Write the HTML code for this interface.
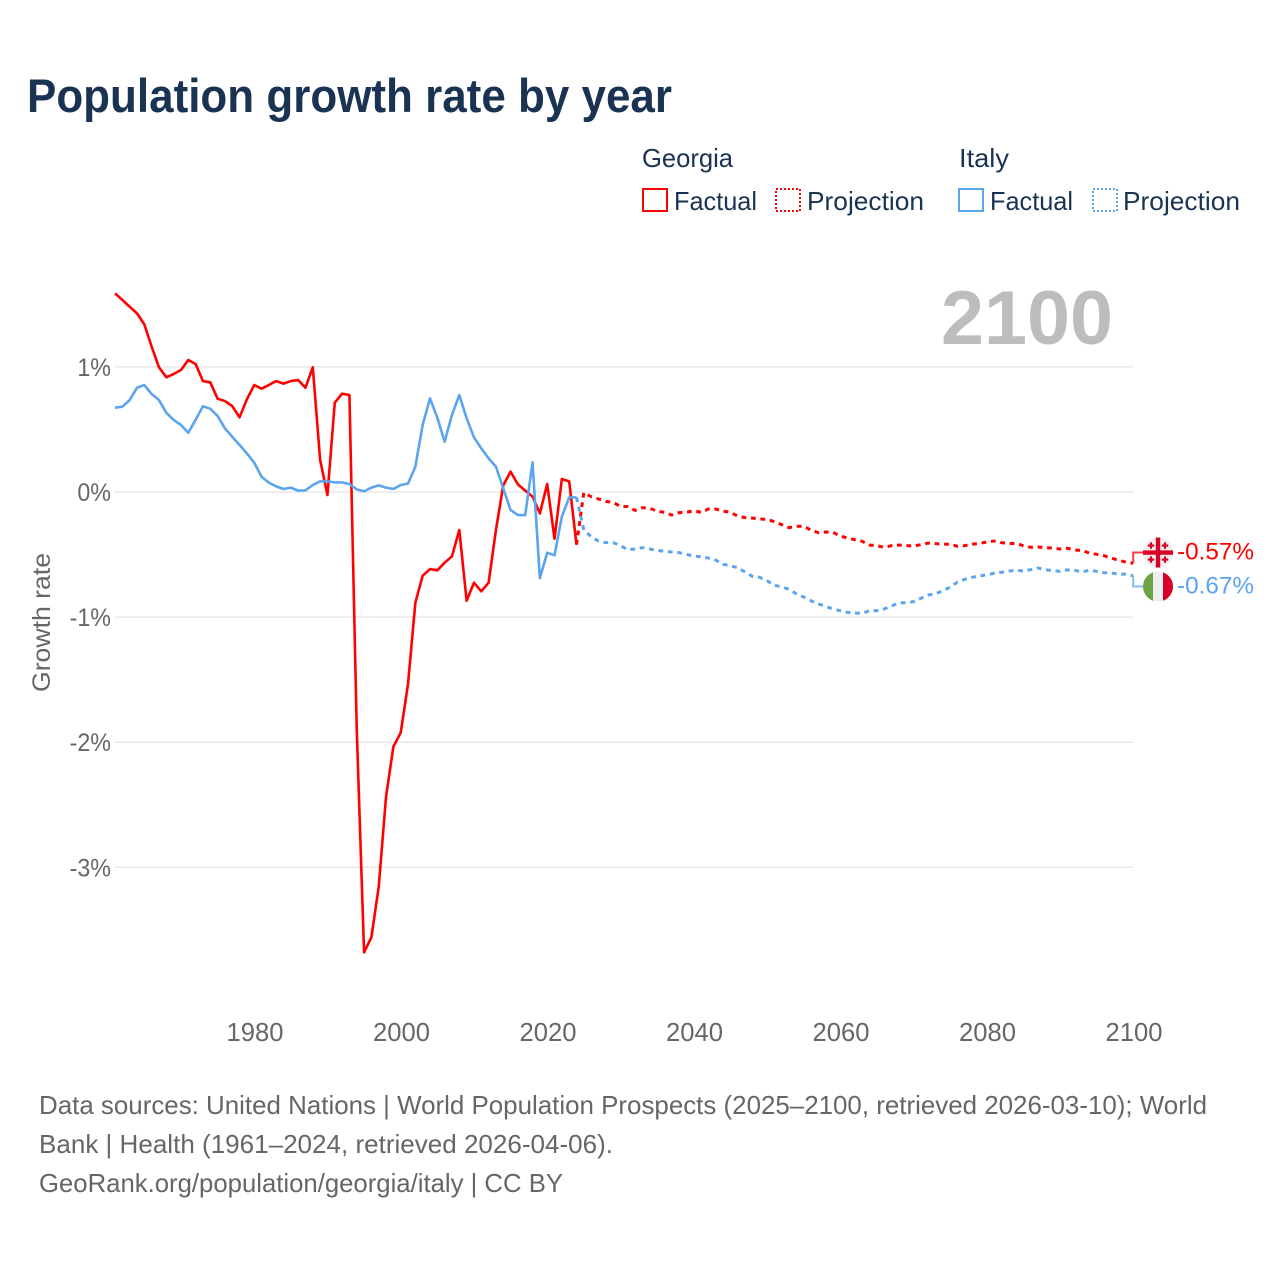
<!DOCTYPE html>
<html lang="en">
<head>
<meta charset="utf-8">
<title>Population growth rate by year</title>
<style>
html,body{margin:0;padding:0;background:#fff;width:1280px;height:1280px;overflow:hidden}
svg{display:block}
text{font-family:"Liberation Sans",sans-serif}
</style>
</head>
<body>
<svg id="chart" xmlns="http://www.w3.org/2000/svg" width="1280" height="1280" viewBox="0 0 1280 1280">
  <rect x="0" y="0" width="1280" height="1280" fill="#ffffff"/>
  <text x="27" y="112" font-size="47" font-weight="700" fill="#1a3353" textLength="645" lengthAdjust="spacingAndGlyphs">Population growth rate by year</text>

  <g font-size="26" fill="#1a3353">
    <text x="642" y="167" textLength="91" lengthAdjust="spacingAndGlyphs">Georgia</text>
    <rect x="643" y="189" width="24" height="22" fill="none" stroke="#ff0000" stroke-width="2"/>
    <text x="674" y="210" textLength="83" lengthAdjust="spacingAndGlyphs">Factual</text>
    <rect x="776" y="189" width="24" height="22" fill="none" stroke="#ff0000" stroke-width="2" stroke-dasharray="2 2"/>
    <text x="807" y="210" textLength="117" lengthAdjust="spacingAndGlyphs">Projection</text>
    <text x="959" y="167" textLength="50" lengthAdjust="spacingAndGlyphs">Italy</text>
    <rect x="959" y="189" width="24" height="22" fill="none" stroke="#5ba4ee" stroke-width="2"/>
    <text x="990" y="210" textLength="83" lengthAdjust="spacingAndGlyphs">Factual</text>
    <rect x="1093" y="189" width="24" height="22" fill="none" stroke="#5ba4ee" stroke-width="2" stroke-dasharray="2 2"/>
    <text x="1123" y="210" textLength="117" lengthAdjust="spacingAndGlyphs">Projection</text>
  </g>

  <g id="grid"></g>
  <text x="941" y="344" font-size="76" font-weight="700" fill="#bdbdbd" textLength="172" lengthAdjust="spacingAndGlyphs">2100</text>
  <g id="yticks"></g>
  <g id="xticks"></g>
  <text transform="translate(50 622.5) rotate(-90)" text-anchor="middle" font-size="25" fill="#666666" textLength="139" lengthAdjust="spacingAndGlyphs">Growth rate</text>

  <g id="series"></g>
  <g id="ends"></g>

  <g font-size="26" fill="#666666">
    <text x="39" y="1114" textLength="1168" lengthAdjust="spacingAndGlyphs">Data sources: United Nations | World Population Prospects (2025–2100, retrieved 2026-03-10); World</text>
    <text x="39" y="1153" textLength="574" lengthAdjust="spacingAndGlyphs">Bank | Health (1961–2024, retrieved 2026-04-06).</text>
    <text x="39" y="1192" textLength="524" lengthAdjust="spacingAndGlyphs">GeoRank.org/population/georgia/italy | CC BY</text>
  </g>
</svg>
<script>
const xTickYears = [1980, 2000, 2020, 2040, 2060, 2080, 2100];
const yTickValues = [1, 0, -1, -2, -3];
const factualStartYear = 1961;
const projectionStartYear = 2024;
const georgiaFactual = [1.588,1.535,1.481,1.428,1.34,1.162,0.997,0.917,0.943,0.975,1.055,1.023,0.887,0.877,0.746,0.727,0.687,0.597,0.741,0.855,0.826,0.855,0.887,0.866,0.887,0.895,0.834,0.997,0.256,-0.024,0.714,0.786,0.775,-1.9,-3.68,-3.56,-3.155,-2.435,-2.036,-1.924,-1.535,-0.885,-0.669,-0.616,-0.626,-0.565,-0.514,-0.304,-0.869,-0.725,-0.794,-0.725,-0.304,0.053,0.163,0.061,0.011,-0.037,-0.171,0.064,-0.373,0.104,0.085,-0.421];
const italyFactual = [0.674,0.682,0.735,0.834,0.855,0.783,0.735,0.634,0.576,0.536,0.474,0.576,0.685,0.666,0.608,0.509,0.442,0.376,0.309,0.234,0.123,0.075,0.045,0.024,0.035,0.011,0.013,0.056,0.085,0.085,0.077,0.077,0.064,0.021,0.005,0.035,0.053,0.035,0.024,0.056,0.067,0.203,0.536,0.749,0.594,0.402,0.616,0.775,0.589,0.437,0.349,0.269,0.203,0.029,-0.144,-0.184,-0.184,0.237,-0.69,-0.485,-0.506,-0.197,-0.043,-0.043];
const georgiaProjection = [-0.421,-0.005,-0.037,-0.056,-0.075,-0.083,-0.115,-0.117,-0.147,-0.125,-0.131,-0.152,-0.163,-0.184,-0.165,-0.163,-0.149,-0.163,-0.136,-0.136,-0.152,-0.163,-0.192,-0.205,-0.208,-0.216,-0.218,-0.237,-0.261,-0.285,-0.274,-0.274,-0.304,-0.325,-0.32,-0.322,-0.352,-0.368,-0.381,-0.394,-0.424,-0.429,-0.442,-0.429,-0.424,-0.429,-0.432,-0.421,-0.408,-0.413,-0.416,-0.418,-0.434,-0.429,-0.418,-0.41,-0.4,-0.392,-0.405,-0.413,-0.41,-0.429,-0.442,-0.44,-0.445,-0.448,-0.456,-0.45,-0.464,-0.466,-0.488,-0.498,-0.509,-0.528,-0.546,-0.56,-0.57];
const italyProjection = [-0.043,-0.304,-0.357,-0.392,-0.405,-0.405,-0.429,-0.461,-0.456,-0.445,-0.456,-0.466,-0.474,-0.48,-0.485,-0.498,-0.514,-0.517,-0.528,-0.544,-0.578,-0.589,-0.605,-0.639,-0.674,-0.682,-0.709,-0.746,-0.757,-0.778,-0.813,-0.839,-0.869,-0.895,-0.914,-0.935,-0.949,-0.962,-0.967,-0.97,-0.949,-0.949,-0.935,-0.911,-0.887,-0.885,-0.877,-0.85,-0.823,-0.815,-0.789,-0.762,-0.72,-0.698,-0.682,-0.672,-0.661,-0.65,-0.642,-0.632,-0.626,-0.632,-0.621,-0.608,-0.621,-0.629,-0.634,-0.623,-0.626,-0.639,-0.626,-0.634,-0.645,-0.648,-0.656,-0.656,-0.67];

const SVGNS = 'http://www.w3.org/2000/svg';
const RED = '#ff0000';
const BLUE = '#5ba4ee';
const GRAY = '#666666';
const xScale = function (year) { return 254.2 + (year - 1980) * 7.325; };
const yScale = function (value) { return 492 - value * 125.1; };

function make(tag, attrs, parent) {
  const el = document.createElementNS(SVGNS, tag);
  Object.keys(attrs).forEach(function (k) { el.setAttribute(k, attrs[k]); });
  parent.appendChild(el);
  return el;
}
function linePoints(values, startYear) {
  return values.map(function (v, i) {
    return xScale(startYear + i).toFixed(2) + ',' + yScale(v).toFixed(2);
  }).join(' ');
}

const gridGroup = document.getElementById('grid');
const yTickGroup = document.getElementById('yticks');
const xTickGroup = document.getElementById('xticks');
const seriesGroup = document.getElementById('series');
const endsGroup = document.getElementById('ends');

yTickValues.forEach(function (v) {
  const line = make('line', {x1: 115, x2: 1133, y1: yScale(v), y2: yScale(v), stroke: '#e8e8e8', 'stroke-width': 1.5}, gridGroup);
  
  
  const label = make('text', {x: 111, y: yScale(v) + 9, 'text-anchor': 'end', 'font-size': 25, fill: GRAY}, yTickGroup);
  
  
  label.textContent = v + '%';
  label.setAttribute('lengthAdjust', 'spacingAndGlyphs');
  label.setAttribute('textLength', (label.getComputedTextLength() * 0.93).toFixed(2));
});

xTickYears.forEach(function (year) {
  const label = make('text', {x: xScale(year) + 0.8, y: 1041, 'text-anchor': 'middle', 'font-size': 25.6, fill: GRAY}, xTickGroup);
  
  
  label.textContent = String(year);
});

const georgiaFactualLine = make('polyline', {points: linePoints(georgiaFactual, factualStartYear), fill: 'none', stroke: RED, 'stroke-width': 2.6, 'stroke-linejoin': 'round'}, seriesGroup);



const italyFactualLine = make('polyline', {points: linePoints(italyFactual, factualStartYear), fill: 'none', stroke: BLUE, 'stroke-width': 2.6, 'stroke-linejoin': 'round'}, seriesGroup);



const georgiaProjectionLine = make('polyline', {points: linePoints(georgiaProjection, projectionStartYear), fill: 'none', stroke: RED, 'stroke-width': 3, 'stroke-dasharray': '4.8 4.7'}, seriesGroup);



const italyProjectionLine = make('polyline', {points: linePoints(italyProjection, projectionStartYear), fill: 'none', stroke: BLUE, 'stroke-width': 3, 'stroke-dasharray': '4.8 4.7'}, seriesGroup);



/* End markers: two labels pushed apart around their midpoint */
const georgiaEnd = georgiaProjection[georgiaProjection.length - 1];
const italyEnd = italyProjection[italyProjection.length - 1];
const endMid = (yScale(georgiaEnd) + yScale(italyEnd)) / 2;
const georgiaFlagY = endMid - 17;
const italyFlagY = endMid + 17;
const flagX = 1158;
const elbowX = xScale(2100);

const georgiaElbow = make('path', {d: 'M' + elbowX + ' ' + yScale(georgiaEnd) + 'V' + georgiaFlagY + 'H' + flagX, fill: 'none', stroke: RED, 'stroke-width': 2, opacity: 0.75}, endsGroup);



const italyElbow = make('path', {d: 'M' + elbowX + ' ' + yScale(italyEnd) + 'V' + italyFlagY + 'H' + flagX, fill: 'none', stroke: BLUE, 'stroke-width': 2, opacity: 0.75}, endsGroup);



/* Georgia flag */
const georgiaFlag = make('g', {transform: 'translate(' + flagX + ' ' + georgiaFlagY + ')'}, endsGroup);


make('circle', {cx: 0, cy: 0, r: 15, fill: '#eeeeee'}, georgiaFlag);
make('rect', {x: -2.2, y: -15, width: 4.4, height: 30, fill: '#d80027'}, georgiaFlag);
make('rect', {x: -15, y: -2.2, width: 30, height: 4.4, fill: '#d80027'}, georgiaFlag);
[[-7, -7], [7, -7], [-7, 7], [7, 7]].forEach(function (c) {
  make('rect', {x: c[0] - 1.1, y: c[1] - 3.2, width: 2.2, height: 6.4, fill: '#d80027'}, georgiaFlag);
  make('rect', {x: c[0] - 3.2, y: c[1] - 1.1, width: 6.4, height: 2.2, fill: '#d80027'}, georgiaFlag);
});

/* Italy flag */
const italyFlag = make('g', {transform: 'translate(' + flagX + ' ' + italyFlagY + ')'}, endsGroup);


make('circle', {cx: 0, cy: 0, r: 15, fill: '#eeeeee'}, italyFlag);
make('path', {d: 'M-5 -14.14A15 15 0 0 0 -5 14.14Z', fill: '#6da544'}, italyFlag);
make('path', {d: 'M5 -14.14A15 15 0 0 1 5 14.14Z', fill: '#d80027'}, italyFlag);

const georgiaEndLabel = make('text', {x: 1177, y: georgiaFlagY + 7, 'font-size': 24.5, fill: RED, textLength: 77, lengthAdjust: 'spacingAndGlyphs'}, endsGroup);


georgiaEndLabel.textContent = georgiaEnd.toFixed(2) + '%';

const italyEndLabel = make('text', {x: 1177, y: italyFlagY + 7, 'font-size': 24.5, fill: BLUE, textLength: 77, lengthAdjust: 'spacingAndGlyphs'}, endsGroup);


italyEndLabel.textContent = italyEnd.toFixed(2) + '%';
</script>
</body>
</html>
